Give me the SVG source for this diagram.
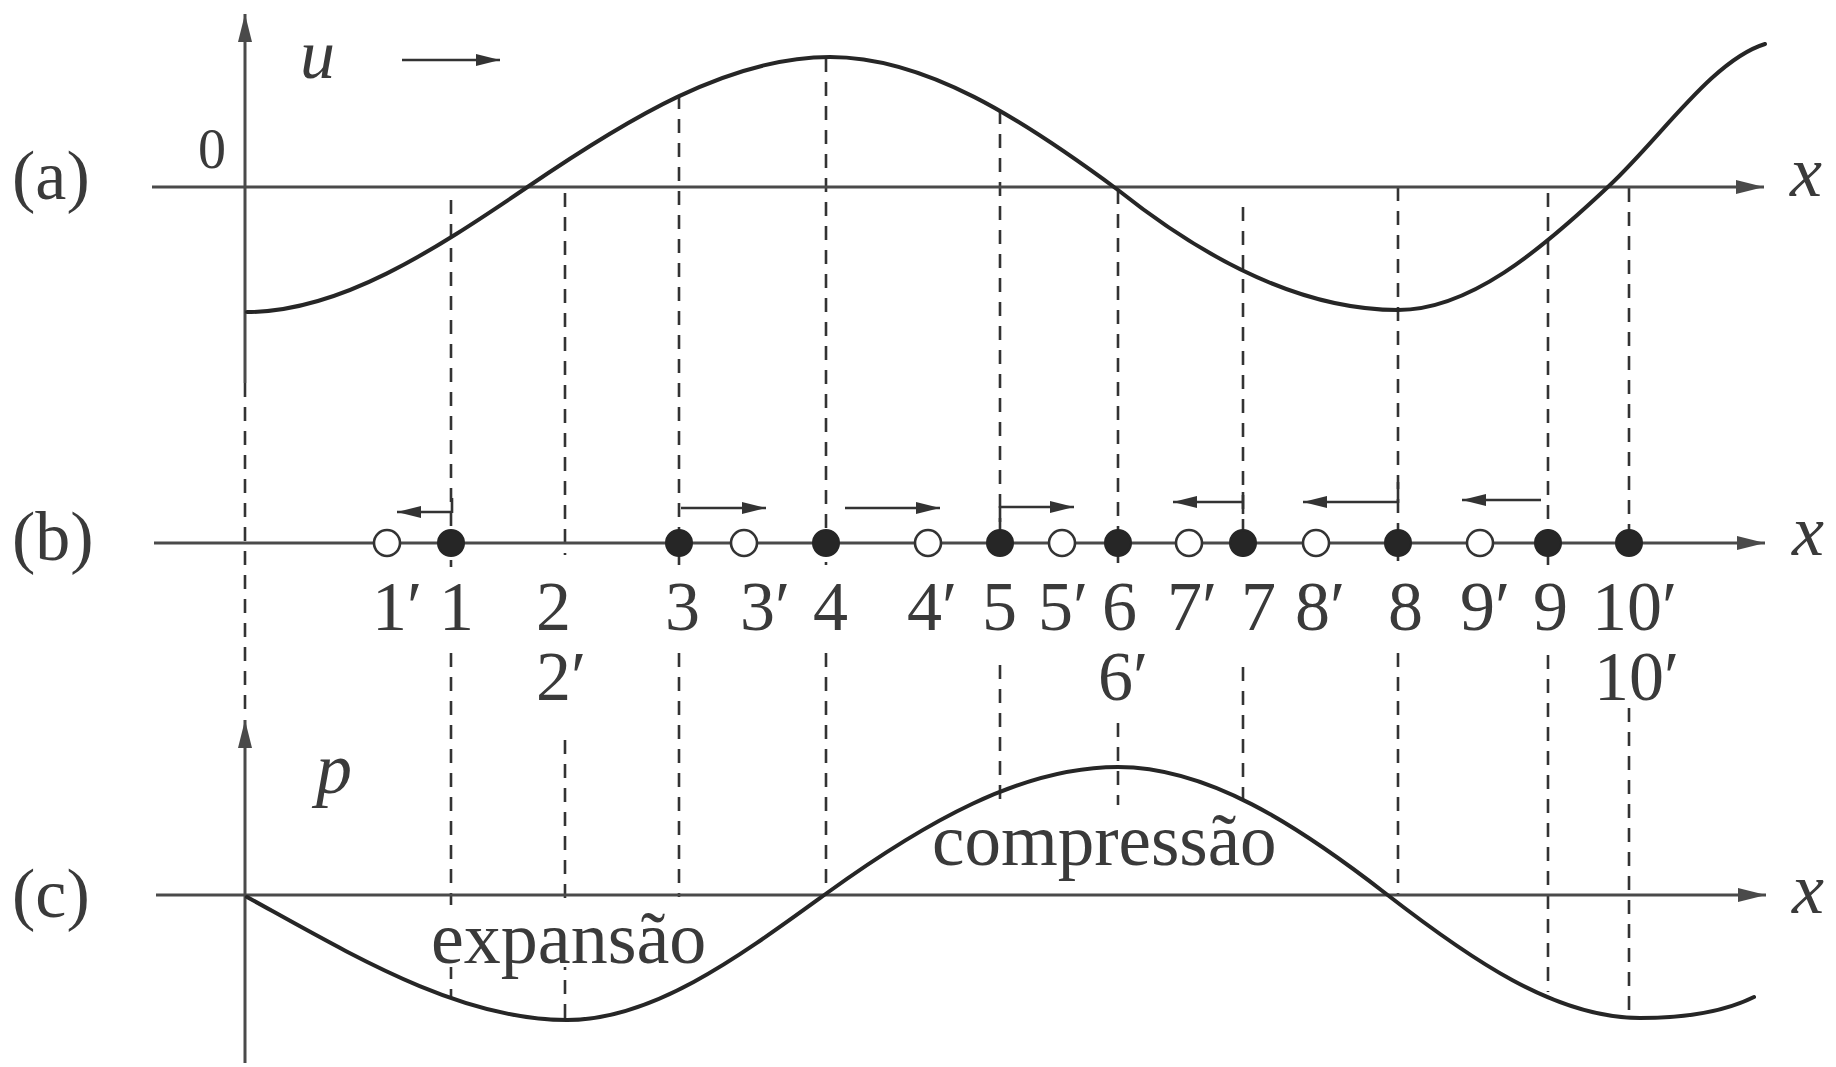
<svg xmlns="http://www.w3.org/2000/svg" width="1836" height="1067" viewBox="0 0 1836 1067">
<style>
  .axis{stroke:#4a4a4a;stroke-width:3;fill:none}
  .curve{stroke:#262626;stroke-width:4;fill:none;stroke-linecap:round}
  .dash{stroke:#333;stroke-width:2.6;fill:none;stroke-dasharray:14 10}
  .arr{stroke:#333;stroke-width:2.6;fill:none}
  .tick{stroke:#333;stroke-width:2.6}
  .lbl{font-family:"Liberation Serif","Times New Roman",serif;fill:#3a3a3a}
  .num{font-size:70px}
  .it{font-style:italic}
  .filled{fill:#262626;stroke:#262626;stroke-width:2}
  .open{fill:#fff;stroke:#333;stroke-width:2.6}
</style>
<defs>
  <marker id="axhead" markerUnits="userSpaceOnUse" markerWidth="28" markerHeight="14" refX="28" refY="7" orient="auto">
    <path d="M0,0 L28,7 L0,14 z" fill="#4a4a4a"/>
  </marker>
  <marker id="head" markerUnits="userSpaceOnUse" markerWidth="24" markerHeight="12" refX="24" refY="6" orient="auto">
    <path d="M0,0 L24,6 L0,12 z" fill="#333"/>
  </marker>
</defs>
<rect width="1836" height="1067" fill="#fff"/>

<g id="connectors">
  <g id="guides">
    <line class="dash" x1="245" y1="383" x2="245" y2="712"/>
    <line class="dash" x1="451" y1="200" x2="451" y2="567"/>
    <line class="dash" x1="451" y1="653" x2="451" y2="997"/>
    <line class="dash" x1="565" y1="193" x2="565" y2="555"/>
    <line class="dash" x1="565" y1="740" x2="565" y2="1020"/>
    <line class="dash" x1="679" y1="95" x2="679" y2="565"/>
    <line class="dash" x1="679" y1="653" x2="679" y2="897"/>
    <line class="dash" x1="826" y1="58" x2="826" y2="565"/>
    <line class="dash" x1="826" y1="653" x2="826" y2="893"/>
    <line class="dash" x1="1000" y1="110" x2="1000" y2="565"/>
    <line class="dash" x1="1000" y1="665" x2="1000" y2="805"/>
    <line class="dash" x1="1118" y1="190" x2="1118" y2="563"/>
    <line class="dash" x1="1118" y1="723" x2="1118" y2="805"/>
    <line class="dash" x1="1243" y1="207" x2="1243" y2="565"/>
    <line class="dash" x1="1243" y1="667" x2="1243" y2="808"/>
    <line class="dash" x1="1398" y1="187" x2="1398" y2="565"/>
    <line class="dash" x1="1398" y1="653" x2="1398" y2="895"/>
    <line class="dash" x1="1548" y1="193" x2="1548" y2="565"/>
    <line class="dash" x1="1548" y1="655" x2="1548" y2="992"/>
    <line class="dash" x1="1629" y1="188" x2="1629" y2="530"/>
    <line class="dash" x1="1629" y1="708" x2="1629" y2="1017"/>
  </g>
  <g id="displacement-arrows">
    <line class="arr" x1="402" y1="60" x2="500" y2="60" marker-end="url(#head)"/>
    <line class="tick" x1="452" y1="498" x2="452" y2="513"/>
    <line class="arr" x1="452" y1="512" x2="397" y2="512" marker-end="url(#head)"/>
    <line class="arr" x1="681" y1="508" x2="766" y2="508" marker-end="url(#head)"/>
    <line class="arr" x1="845" y1="508" x2="940" y2="508" marker-end="url(#head)"/>
    <line class="tick" x1="1000" y1="506" x2="1000" y2="522"/>
    <line class="arr" x1="1000" y1="507" x2="1074" y2="507" marker-end="url(#head)"/>
    <line class="tick" x1="1243" y1="492" x2="1243" y2="514"/>
    <line class="arr" x1="1243" y1="502" x2="1173" y2="502" marker-end="url(#head)"/>
    <line class="tick" x1="1398" y1="482" x2="1398" y2="503"/>
    <line class="arr" x1="1398" y1="502" x2="1303" y2="502" marker-end="url(#head)"/>
    <line class="arr" x1="1541" y1="500" x2="1462" y2="500" marker-end="url(#head)"/>
  </g>
</g>

<rect x="428" y="905" width="280" height="62" fill="#fff"/>

<g id="panel-a">
  <line class="axis" x1="245" y1="383" x2="245" y2="14" marker-end="url(#axhead)"/>
  <line class="axis" x1="152" y1="187" x2="1764" y2="187" marker-end="url(#axhead)"/>
  <path class="curve" d="M247,312 C340,312 433,251 526,188 C627,119 729,57 830,57 C926,57 1022,119 1118,190 C1211,264 1305,310 1398,310 C1469,310 1539,252 1610,185 C1662,136 1713,60 1765,44"/>
  <text class="lbl num" x="12" y="199">(a)</text>
  <text class="lbl" x="198" y="168" font-size="56">0</text>
  <text class="lbl it" x="300" y="78" font-size="70">u</text>
  <text class="lbl it" x="1790" y="196" font-size="72">x</text>
</g>

<g id="panel-b">
  <line class="axis" x1="154" y1="543" x2="1765" y2="543" marker-end="url(#axhead)"/>
  <text class="lbl num" x="12" y="560">(b)</text>
  <text class="lbl it" x="1792" y="555" font-size="72">x</text>
  <g id="dot-1p"><circle class="open" cx="387" cy="543" r="13"/><text class="lbl num" x="372" y="630">1′</text></g>
  <g id="dot-1"><circle class="filled" cx="451" cy="543" r="13"/><text class="lbl num" x="439" y="630">1</text></g>
  <g id="pt-2"><text class="lbl num" x="536" y="630">2</text><text class="lbl num" x="536" y="700">2′</text></g>
  <g id="dot-3"><circle class="filled" cx="679" cy="543" r="13"/><text class="lbl num" x="665" y="630">3</text></g>
  <g id="dot-3p"><circle class="open" cx="744" cy="543" r="13"/><text class="lbl num" x="740" y="630">3′</text></g>
  <g id="dot-4"><circle class="filled" cx="826" cy="543" r="13"/><text class="lbl num" x="813" y="630">4</text></g>
  <g id="dot-4p"><circle class="open" cx="928" cy="543" r="13"/><text class="lbl num" x="907" y="630">4′</text></g>
  <g id="dot-5"><circle class="filled" cx="1000" cy="543" r="13"/><text class="lbl num" x="982" y="630">5</text></g>
  <g id="dot-5p"><circle class="open" cx="1062" cy="543" r="13"/><text class="lbl num" x="1038" y="630">5′</text></g>
  <g id="dot-6"><circle class="filled" cx="1118" cy="543" r="13"/><text class="lbl num" x="1102" y="630">6</text><text class="lbl num" x="1098" y="700">6′</text></g>
  <g id="dot-7p"><circle class="open" cx="1189" cy="543" r="13"/><text class="lbl num" x="1167" y="630">7′</text></g>
  <g id="dot-7"><circle class="filled" cx="1243" cy="543" r="13"/><text class="lbl num" x="1241" y="630">7</text></g>
  <g id="dot-8p"><circle class="open" cx="1316" cy="543" r="13"/><text class="lbl num" x="1295" y="630">8′</text></g>
  <g id="dot-8"><circle class="filled" cx="1398" cy="543" r="13"/><text class="lbl num" x="1388" y="630">8</text></g>
  <g id="dot-9p"><circle class="open" cx="1480" cy="543" r="13"/><text class="lbl num" x="1460" y="630">9′</text></g>
  <g id="dot-9"><circle class="filled" cx="1548" cy="543" r="13"/><text class="lbl num" x="1533" y="630">9</text></g>
  <g id="dot-10"><circle class="filled" cx="1629" cy="543" r="13"/><text class="lbl num" x="1592" y="630">10′</text><text class="lbl num" x="1594" y="700">10′</text></g>
</g>

<g id="panel-c">
  <line class="axis" x1="245" y1="1063" x2="245" y2="720" marker-end="url(#axhead)"/>
  <line class="axis" x1="156" y1="895" x2="1766" y2="895" marker-end="url(#axhead)"/>
  <path class="curve" d="M247,897 C354,956 460,1020 567,1020 C654,1020 740,956 827,893 C924,823 1021,767 1118,767 C1207,767 1296,824 1385,893 C1470,959 1555,1018 1640,1018 C1678,1018 1720,1014 1754,997"/>
  <text class="lbl num" x="12" y="917">(c)</text>
  <text class="lbl it" x="316" y="793" font-size="72">p</text>
  <text class="lbl it" x="1792" y="913" font-size="72">x</text>
  <text class="lbl" x="431" y="963" font-size="74">expansão</text>
  <text class="lbl" x="932" y="865" font-size="73">compressão</text>
</g>
</svg>
